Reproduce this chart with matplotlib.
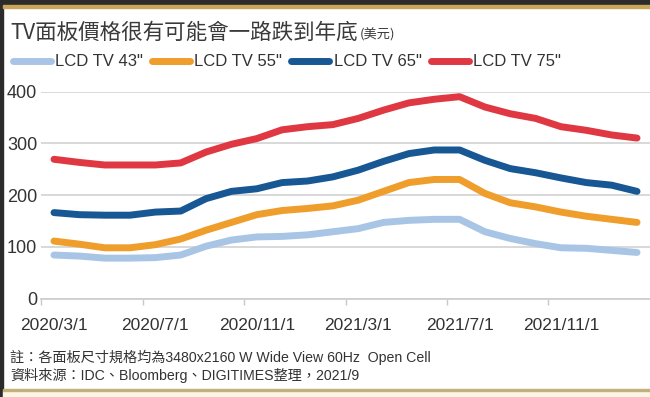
import numpy as np
import matplotlib
matplotlib.use('Agg')
import matplotlib.pyplot as plt
from matplotlib.patches import Rectangle

plt.rcParams['font.family'] = ['Liberation Sans', 'Noto Sans CJK TC']

# monthly panel prices (USD)
months = ['2020/3/1', '2020/4/1', '2020/5/1', '2020/6/1', '2020/7/1', '2020/8/1',
          '2020/9/1', '2020/10/1', '2020/11/1', '2020/12/1', '2021/1/1', '2021/2/1',
          '2021/3/1', '2021/4/1', '2021/5/1', '2021/6/1', '2021/7/1', '2021/8/1',
          '2021/9/1', '2021/10/1', '2021/11/1', '2021/12/1', '2022/1/1', '2022/2/1']
tv43 = [84, 82, 78, 78, 79, 84, 101, 113, 119, 120, 123, 129,
        135, 147, 151, 153, 153, 129, 116, 106, 98, 97, 93, 89]
tv55 = [111, 105, 98, 98, 104, 115, 132, 147, 162, 170, 174, 179,
        190, 207, 224, 230, 230, 203, 185, 177, 167, 159, 153, 147]
tv65 = [166, 162, 161, 161, 167, 169, 193, 207, 212, 224, 227, 235,
        248, 265, 280, 287, 287, 267, 251, 243, 233, 224, 219, 207]
tv75 = [269, 263, 258, 258, 258, 262, 283, 298, 309, 326, 332, 336,
        348, 364, 378, 385, 390, 370, 357, 348, 332, 325, 316, 310]

series_names = ['LCD TV 43"', 'LCD TV 55"', 'LCD TV 65"', 'LCD TV 75"']
series_colors = ['#a9c5e6', '#ef9d2b', '#175793', '#e03842']
yticks = [0, 100, 200, 300, 400]

text_col = '#333333'

fig = plt.figure(figsize=(6.5, 3.97), dpi=100)
fig.patch.set_facecolor('white')

# plot area (pixel positions)
ax = fig.add_axes([41.3 / 650, 1 - 298.5 / 397, 608.4 / 650, 207 / 397])
x = np.arange(len(months))
for vals, col, name in zip([tv43, tv55, tv65, tv75], series_colors, series_names):
    ax.plot(x, vals, color=col, lw=5, solid_capstyle='round',
            solid_joinstyle='round', label=name)

ax.set_xlim(-0.5, len(months) - 0.5)
ax.set_ylim(0, 400)
ax.set_yticks(yticks)
ax.yaxis.grid(True, color='#d6d6d6', lw=1.3)
ax.set_axisbelow(True)
for side in ['top', 'right', 'left']:
    ax.spines[side].set_visible(False)
ax.spines['bottom'].set_color('#cfcfcf')
ax.spines['bottom'].set_linewidth(1.3)

# labels on every 4th month, tick marks on the category boundaries
ax.set_xticks(x[::4])
ax.set_xticklabels(months[::4])
ax.set_xticks(x[::4] - 0.5, minor=True)
ax.tick_params(axis='x', which='major', length=0, pad=14, labelsize=12.5, labelcolor=text_col)
ax.tick_params(axis='x', which='minor', length=4, color='#c8c8c8', width=1)
ax.tick_params(axis='y', length=0, pad=3, labelsize=13, labelcolor=text_col)

# legend row under the title
handles, labels = ax.get_legend_handles_labels()
fig.legend(handles, labels, loc='center left', bbox_to_anchor=(13 / 650, 1 - 62 / 397),
           ncol=4, frameon=False, fontsize=12, handlelength=2.28, handletextpad=0.25,
           columnspacing=0.55, borderaxespad=0, borderpad=0, labelcolor=text_col)

# title + unit
title = fig.text(10 / 650, 1 - 39 / 397, 'TV面板價格很有可能會一路跌到年底',
                 fontsize=15.5, family=['Noto Sans CJK TC'], va='baseline', color='#3a3a3a')
fig.canvas.draw()
bb = title.get_window_extent()
fig.text((bb.x1 + 2) / 650, 1 - 39 / 397, '(美元)', fontsize=9.5,
         family=['Noto Sans CJK TC'], va='baseline', color='#3a3a3a')

# footnotes
fig.text(10 / 650, 1 - 357 / 397, '註：各面板尺寸規格均為3480x2160 W Wide View 60Hz  Open Cell',
         fontsize=10.2, va='center', color=text_col)
fig.text(10 / 650, 1 - 375 / 397, '資料來源：IDC、Bloomberg、DIGITIMES整理，2021/9',
         fontsize=10.2, va='center', color=text_col)

# frame decoration
fig.add_artist(Rectangle((0, 0), 3 / 650, 1, transform=fig.transFigure, color='#2b2b2b'))
fig.add_artist(Rectangle((0, 1 - 4 / 397), 1, 4 / 397, transform=fig.transFigure, color='#2b2b2b'))
fig.add_artist(Rectangle((3 / 650, 1 - 7.5 / 397), 1, 2.5 / 397, transform=fig.transFigure, color='#c9a55a'))
fig.add_artist(Rectangle((3 / 650, 0), 1, 6 / 397, transform=fig.transFigure, color='#fbf5e4'))
fig.add_artist(Rectangle((3 / 650, 1 - 391 / 397), 1, 2 / 397, transform=fig.transFigure, color='#c4b07c'))

fig.savefig('out.png', dpi=100)
